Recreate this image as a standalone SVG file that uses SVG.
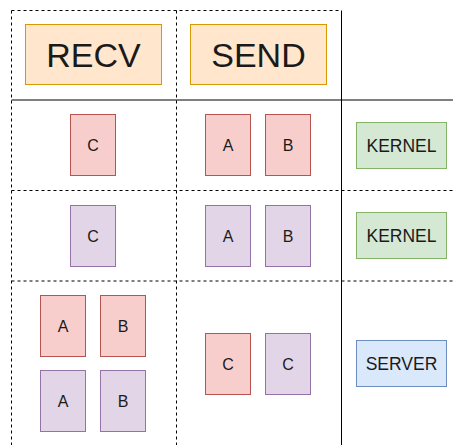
<svg xmlns="http://www.w3.org/2000/svg" width="453" height="445" viewBox="0 0 453 445">
<style>
.dash{stroke:#000;stroke-width:1;stroke-dasharray:3 3;fill:none}
.solid{stroke:#000;stroke-width:1;fill:none}
.hdr{fill:#ffe6cc;stroke:#d79b00}
.red{fill:#f8cecc;stroke:#b85450}
.pur{fill:#e1d5e7;stroke:#9673a6}
.grn{fill:#d5e8d4;stroke:#82b366}
.blu{fill:#dae8fc;stroke:#6c8ebf}
text{font-family:"Liberation Sans",Arial,Helvetica,sans-serif;text-anchor:middle;dominant-baseline:central;fill:#1a1a1a}
.big{font-size:34px}
.sm{font-size:16px}
.lbl{font-size:17.5px}
</style>
<rect width="453" height="445" fill="#fff"/>
<g id="grid">
<path class="dash" d="M11.5 10.5H341.5M11.5 10.5V445M176.5 10.5V445M11.5 190.5H453M11.5 281H453"/>
<path class="solid" d="M341.5 10.5V445M11.5 100H453"/>
</g>
<g id="recv"><rect class="hdr" x="25.5" y="24.5" width="136" height="60"/><text class="big" x="93.5" y="55">RECV</text></g>
<g id="send"><rect class="hdr" x="190.5" y="24.5" width="136" height="60"/><text class="big" x="258.5" y="55">SEND</text></g>
<g id="r1-recv-c"><rect class="red" x="70.5" y="114.5" width="45" height="61"/><text class="sm" x="93" y="145">C</text></g>
<g id="r1-send-a"><rect class="red" x="205.5" y="114.5" width="45" height="61"/><text class="sm" x="228" y="145">A</text></g>
<g id="r1-send-b"><rect class="red" x="265.5" y="114.5" width="45" height="61"/><text class="sm" x="288" y="145">B</text></g>
<g id="r1-kernel"><rect class="grn" x="356.5" y="122.5" width="90" height="46"/><text class="lbl" x="401.5" y="145.5">KERNEL</text></g>
<g id="r2-recv-c"><rect class="pur" x="70.5" y="205.5" width="45" height="61"/><text class="sm" x="93" y="236">C</text></g>
<g id="r2-send-a"><rect class="pur" x="205.5" y="205.5" width="45" height="61"/><text class="sm" x="228" y="236">A</text></g>
<g id="r2-send-b"><rect class="pur" x="265.5" y="205.5" width="45" height="61"/><text class="sm" x="288" y="236">B</text></g>
<g id="r2-kernel"><rect class="grn" x="356.5" y="212.5" width="90" height="46"/><text class="lbl" x="401.5" y="235.5">KERNEL</text></g>
<g id="r3-recv-a1"><rect class="red" x="40.5" y="295.5" width="45" height="61"/><text class="sm" x="63" y="326">A</text></g>
<g id="r3-recv-b1"><rect class="red" x="100.5" y="295.5" width="45" height="61"/><text class="sm" x="123" y="326">B</text></g>
<g id="r3-recv-a2"><rect class="pur" x="40.5" y="370.5" width="45" height="61"/><text class="sm" x="63" y="401">A</text></g>
<g id="r3-recv-b2"><rect class="pur" x="100.5" y="370.5" width="45" height="61"/><text class="sm" x="123" y="401">B</text></g>
<g id="r3-send-c1"><rect class="red" x="205.5" y="333.5" width="45" height="61"/><text class="sm" x="228" y="364">C</text></g>
<g id="r3-send-c2"><rect class="pur" x="265.5" y="333.5" width="45" height="61"/><text class="sm" x="288" y="364">C</text></g>
<g id="r3-server"><rect class="blu" x="356.5" y="340.5" width="90" height="46"/><text class="lbl" x="401.5" y="363.5">SERVER</text></g>
</svg>
